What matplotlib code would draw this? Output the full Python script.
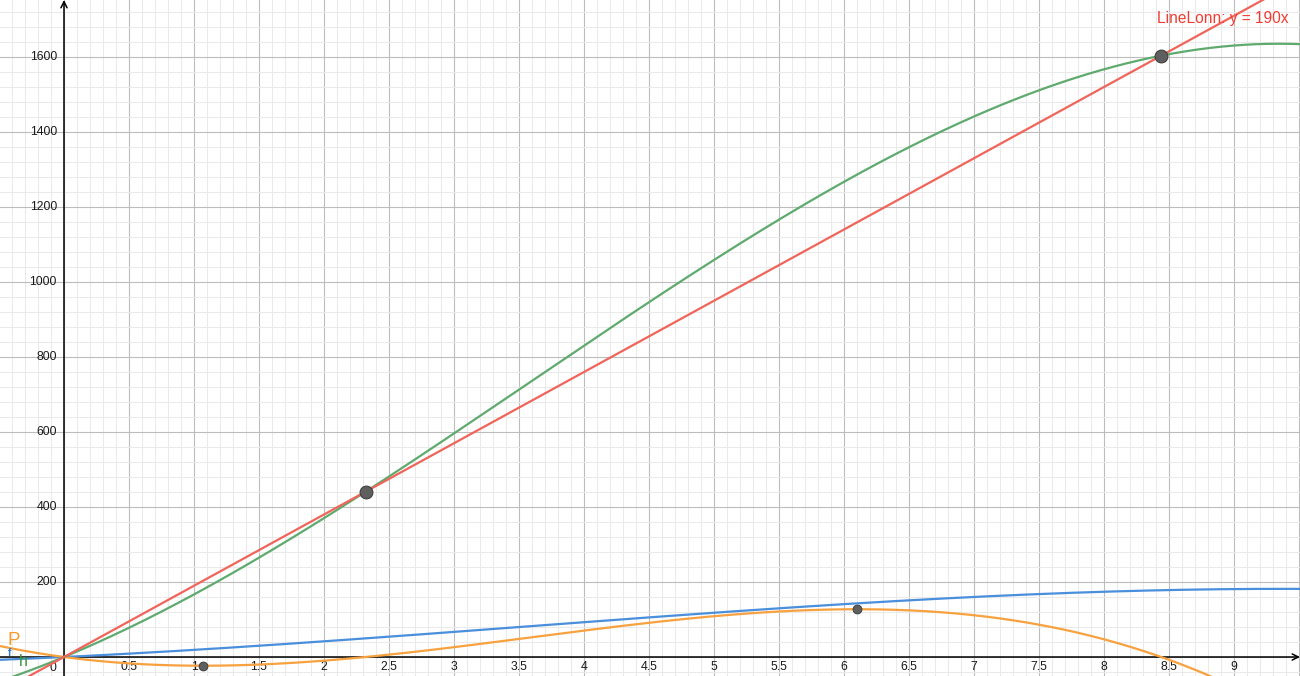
import matplotlib
matplotlib.use("Agg")
import matplotlib.pyplot as plt
import numpy as np

# polynomial coefficients (highest power first)
f_coeffs = [-0.253, 2.672, 16.57, 0.0]        # blue curve f
h_coeffs = [-2.36, 25.394, 143.789, 0.0]      # green curve h
p_coeffs = [-2.36, 25.394, -46.211, 0.0]      # orange curve P
line_slope = 190                              # red LineLonn: y = 190x

# marked points
big_x = [2.32, 8.44]
big_y = [440.8, 1603.6]
small_x = [1.07, 6.10]
small_y = [-23.3, 127.3]

x_ticks = [0.5, 1, 1.5, 2, 2.5, 3, 3.5, 4, 4.5, 5, 5.5, 6, 6.5, 7, 7.5, 8, 8.5, 9]
x_tick_labels = ["0.5", "1", "1.5", "2", "2.5", "3", "3.5", "4", "4.5", "5",
                 "5.5", "6", "6.5", "7", "7.5", "8", "8.5", "9"]
y_ticks = [200, 400, 600, 800, 1000, 1200, 1400, 1600]
y_tick_labels = ["200", "400", "600", "800", "1000", "1200", "1400", "1600"]

X_MIN, X_MAX = -64 / 130, 1236 / 130
Y_MIN, Y_MAX = -19 / 0.375, 657 / 0.375

RED = "#F0645A"
GREEN = "#5FAA6E"
BLUE = "#4A8FDB"
ORANGE = "#F7A13F"

plt.rcParams["font.family"] = ["Liberation Sans", "DejaVu Sans"]

fig = plt.figure(figsize=(13, 6.76), dpi=100)
ax = fig.add_axes([0, 0, 1, 1])
for s in ax.spines.values():
    s.set_visible(False)

# grid
ax.set_xticks(np.arange(-0.5, 10.0, 0.5))
ax.set_xticks(np.arange(-0.5, 10.0, 0.1), minor=True)
ax.set_yticks(np.arange(0, 1801, 200))
ax.set_yticks(np.arange(-80, 1801, 40), minor=True)
ax.grid(which="minor", color="#EAEAEA", lw=0.75)
ax.grid(which="major", color="#BDBDBD", lw=0.8)
ax.tick_params(which="both", length=0, labelbottom=False, labelleft=False)
ax.set_axisbelow(True)
ax.set_xlim(X_MIN, X_MAX)
ax.set_ylim(Y_MIN, Y_MAX)

# axes with arrows
ax.annotate("", xy=(X_MAX, 0), xytext=(X_MIN, 0),
            arrowprops=dict(arrowstyle="->", lw=1.1, color="black",
                            shrinkA=0, shrinkB=0, mutation_scale=11))
ax.annotate("", xy=(0, Y_MAX), xytext=(0, Y_MIN),
            arrowprops=dict(arrowstyle="->", lw=1.1, color="black",
                            shrinkA=0, shrinkB=0, mutation_scale=11))

for xt, lab in zip(x_ticks, x_tick_labels):
    ax.text(xt, -26, lab, ha="center", va="center", fontsize=8.8, color="#1A1A1A")
for yt, lab in zip(y_ticks, y_tick_labels):
    ax.text(-0.054, yt, lab, ha="right", va="center", fontsize=8.8, color="#1A1A1A")
ax.text(-0.085, -29, "0", ha="center", va="center", fontsize=8.8, color="#1A1A1A")

xs = np.linspace(X_MIN, X_MAX, 800)
ax.plot(xs, np.polyval(f_coeffs, xs), color=BLUE, lw=1.6, zorder=3)
ax.plot(xs, np.polyval(p_coeffs, xs), color=ORANGE, lw=1.6, zorder=3)
ax.plot(xs, np.polyval(h_coeffs, xs), color=GREEN, lw=1.6, zorder=3)
ax.plot(xs, line_slope * xs, color=RED, lw=1.6, zorder=3)

ax.plot(big_x, big_y, "o", ms=9.2, color="#5F5F5F", mec="#3F3F3F", mew=0.8, zorder=5)
ax.plot(small_x, small_y, "o", ms=6.3, color="#5F5F5F", mec="#3F3F3F", mew=0.7, zorder=5)

# curve labels
ax.text(8.408, 1704, "LineLonn: y = 190x", ha="left", va="center",
        fontsize=11.2, color="#F03C32")
ax.text(-0.39, 44, "P", ha="center", va="center", fontsize=13.5, color="#F39C2A")
ax.text(-0.42, 12, "f", ha="center", va="center", fontsize=7.5, color="#3278D2",
        fontweight="bold")
ax.text(-0.31, -12, "h", ha="center", va="center", fontsize=11.5, color="#3C963C")

fig.savefig("out.png", dpi=100)
